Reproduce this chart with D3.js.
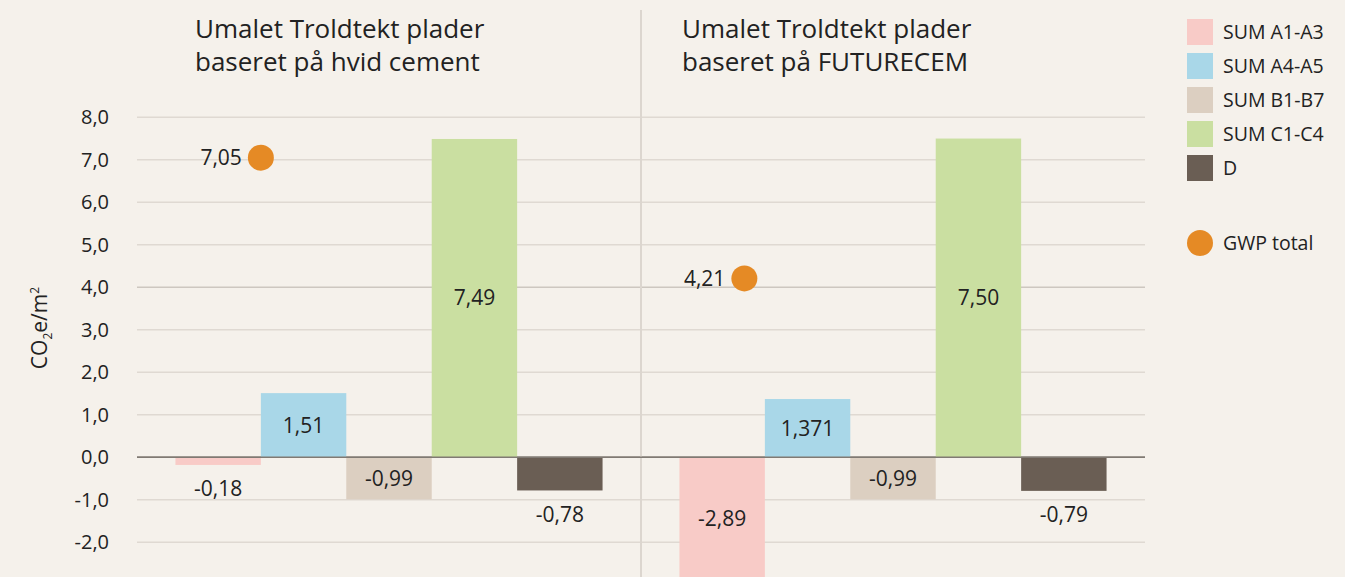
<!DOCTYPE html>
<html>
<head>
<meta charset="utf-8">
<script src="https://cdn.jsdelivr.net/npm/d3@7"></script>
<style>
  body { margin: 0; background: #f5f1eb; }
  svg { display: block; font-family: "Open Sans", "Noto Sans", sans-serif; }
</style>
</head>
<body>
<div class="gwp-chart"></div>
<script>
var categories = ["SUM A1-A3", "SUM A4-A5", "SUM B1-B7", "SUM C1-C4", "D"];
var panels = ["hvid", "futurecem"];
var panelTitles = [
  ["Umalet Troldtekt plader", "baseret på hvid cement"],
  ["Umalet Troldtekt plader", "baseret på FUTURECEM"]
];
var valuesHvid = [-0.18, 1.51, -0.99, 7.49, -0.78];
var valuesFuturecem = [-2.89, 1.371, -0.99, 7.50, -0.79];
var gwpTotal = [7.05, 4.21];
var yTicks = [-2, -1, 0, 1, 2, 3, 4, 5, 6, 7, 8];

var colors = ["#f8cbc7", "#a9d7e8", "#dccfc1", "#cadfa1", "#6a5e54"];
var dotColor = "#e58a25";
// where the GWP dot sits, as a fraction of a band past the start of the first bar
var dotOffset = [1.0, 0.76];
// title indent inside each panel
var titleOffset = [58, 41];

var width = 1345, height = 577;
var plotLeft = 137, plotRight = 1145;

var svg = d3.select(".gwp-chart")
  .append("svg")
  .attr("width", width)
  .attr("height", height);

svg.append("rect").attr("width", width).attr("height", height).attr("fill", "#f5f1eb");

var locale = d3.formatLocale({ decimal: ",", thousands: ".", grouping: [3], currency: ["", ""], minus: "-" });
var tickFormat = locale.format(".1f");
function fmt(v) {
  var dec = (String(v).split(".")[1] || "").length;
  return locale.format("." + Math.max(2, dec) + "f")(v);
}

var y = d3.scaleLinear().domain([0, 8]).range([457.3, 117.3]);

var xPanel = d3.scaleBand().domain(panels).range([plotLeft, plotRight]);
var xCat = d3.scaleBand().domain(categories).range([0, xPanel.bandwidth()])
  .paddingInner(0).paddingOuter(0.45);

// gridlines
svg.append("g")
  .selectAll("line")
  .data(yTicks)
  .enter().append("line")
    .attr("x1", plotLeft)
    .attr("x2", plotRight)
    .attr("y1", function(d) { return y(d); })
    .attr("y2", function(d) { return y(d); })
    .attr("stroke", function(d) { return d === 0 ? "#807a73" : (d === 4 ? "#cdc7c0" : "#dfd9d2"); })
    .attr("stroke-width", 1.5);

// y axis labels
var yAxis = d3.axisLeft(y).tickValues(yTicks).tickFormat(tickFormat).tickSize(0).tickPadding(0);
var gy = svg.append("g")
  .attr("transform", "translate(109,0)")
  .call(yAxis);
gy.select(".domain").remove();
gy.selectAll("text")
  .attr("font-size", 20)
  .attr("fill", "#222")
  .attr("font-family", "Open Sans, sans-serif");

svg.append("text")
  .attr("transform", "translate(47,328) rotate(-90)")
  .attr("text-anchor", "middle")
  .attr("font-size", 21)
  .attr("fill", "#222")
  .html('CO<tspan font-size="12" dy="5">2</tspan><tspan dy="-5">e/m</tspan><tspan font-size="12" dy="-8">2</tspan>');

// panel separator
svg.append("line")
  .attr("x1", xPanel("futurecem")).attr("x2", xPanel("futurecem"))
  .attr("y1", 10).attr("y2", height)
  .attr("stroke", "#dcd6cf").attr("stroke-width", 2);

var panelData = [valuesHvid, valuesFuturecem];

panels.forEach(function(p, pi) {
  var g = svg.append("g").attr("transform", "translate(" + xPanel(p) + ",0)");
  var rows = categories.map(function(c, i) { return { cat: c, value: panelData[pi][i], color: colors[i] }; });

  // title
  var title = g.append("text")
    .attr("font-size", 26)
    .attr("fill", "#222");
  panelTitles[pi].forEach(function(line, li) {
    title.append("tspan").attr("x", titleOffset[pi]).attr("y", 38 + li * 33).text(line);
  });

  g.selectAll(".bar")
    .data(rows)
    .enter().append("rect")
      .attr("class", "bar")
      .attr("x", function(d) { return xCat(d.cat); })
      .attr("width", xCat.bandwidth())
      .attr("y", function(d) { return y(Math.max(0, d.value)); })
      .attr("height", function(d) { return Math.abs(y(d.value) - y(0)); })
      .attr("fill", function(d) { return d.color; });

  // zero line back on top of bars
  g.append("line")
    .attr("x1", 0).attr("x2", xPanel.bandwidth())
    .attr("y1", y(0)).attr("y2", y(0))
    .attr("stroke", "#807a73").attr("stroke-width", 1.5);

  g.selectAll(".val")
    .data(rows)
    .enter().append("text")
      .attr("class", "val")
      .attr("x", function(d) { return xCat(d.cat) + xCat.bandwidth() / 2; })
      .attr("y", function(d) {
        var h = Math.abs(y(d.value) - y(0));
        if (d.cat === "D" || h < 20) return y(d.value) + 24;
        return (y(d.value) + y(0)) / 2;
      })
      .attr("dy", "0.35em")
      .attr("text-anchor", "middle")
      .attr("font-size", 21)
      .attr("fill", "#222")
      .text(function(d) { return fmt(d.value); });

  // GWP total dot
  var cx = xCat(categories[0]) + xCat.bandwidth() * dotOffset[pi];
  g.append("circle")
    .attr("cx", cx)
    .attr("cy", y(gwpTotal[pi]))
    .attr("r", 13)
    .attr("fill", dotColor);
  g.append("text")
    .attr("x", cx - 19)
    .attr("y", y(gwpTotal[pi]))
    .attr("dy", "0.35em")
    .attr("text-anchor", "end")
    .attr("font-size", 21)
    .attr("fill", "#222")
    .text(fmt(gwpTotal[pi]));
});

// legend
var legend = svg.append("g").attr("transform", "translate(1187,19)");
var items = legend.selectAll(".item")
  .data(categories)
  .enter().append("g")
    .attr("class", "item")
    .attr("transform", function(d, i) { return "translate(0," + i * 34 + ")"; });
items.append("rect")
  .attr("width", 26).attr("height", 26)
  .attr("fill", function(d, i) { return colors[i]; });
items.append("text")
  .attr("x", 36).attr("y", 13).attr("dy", "0.35em")
  .attr("font-size", 19.5).attr("fill", "#222")
  .text(function(d) { return d; });

var gwpItem = legend.append("g").attr("transform", "translate(0,211)");
gwpItem.append("circle").attr("cx", 13).attr("cy", 13).attr("r", 13).attr("fill", dotColor);
gwpItem.append("text")
  .attr("x", 36).attr("y", 13).attr("dy", "0.35em")
  .attr("font-size", 19.5).attr("fill", "#222")
  .text("GWP total");
</script>
</body>
</html>
